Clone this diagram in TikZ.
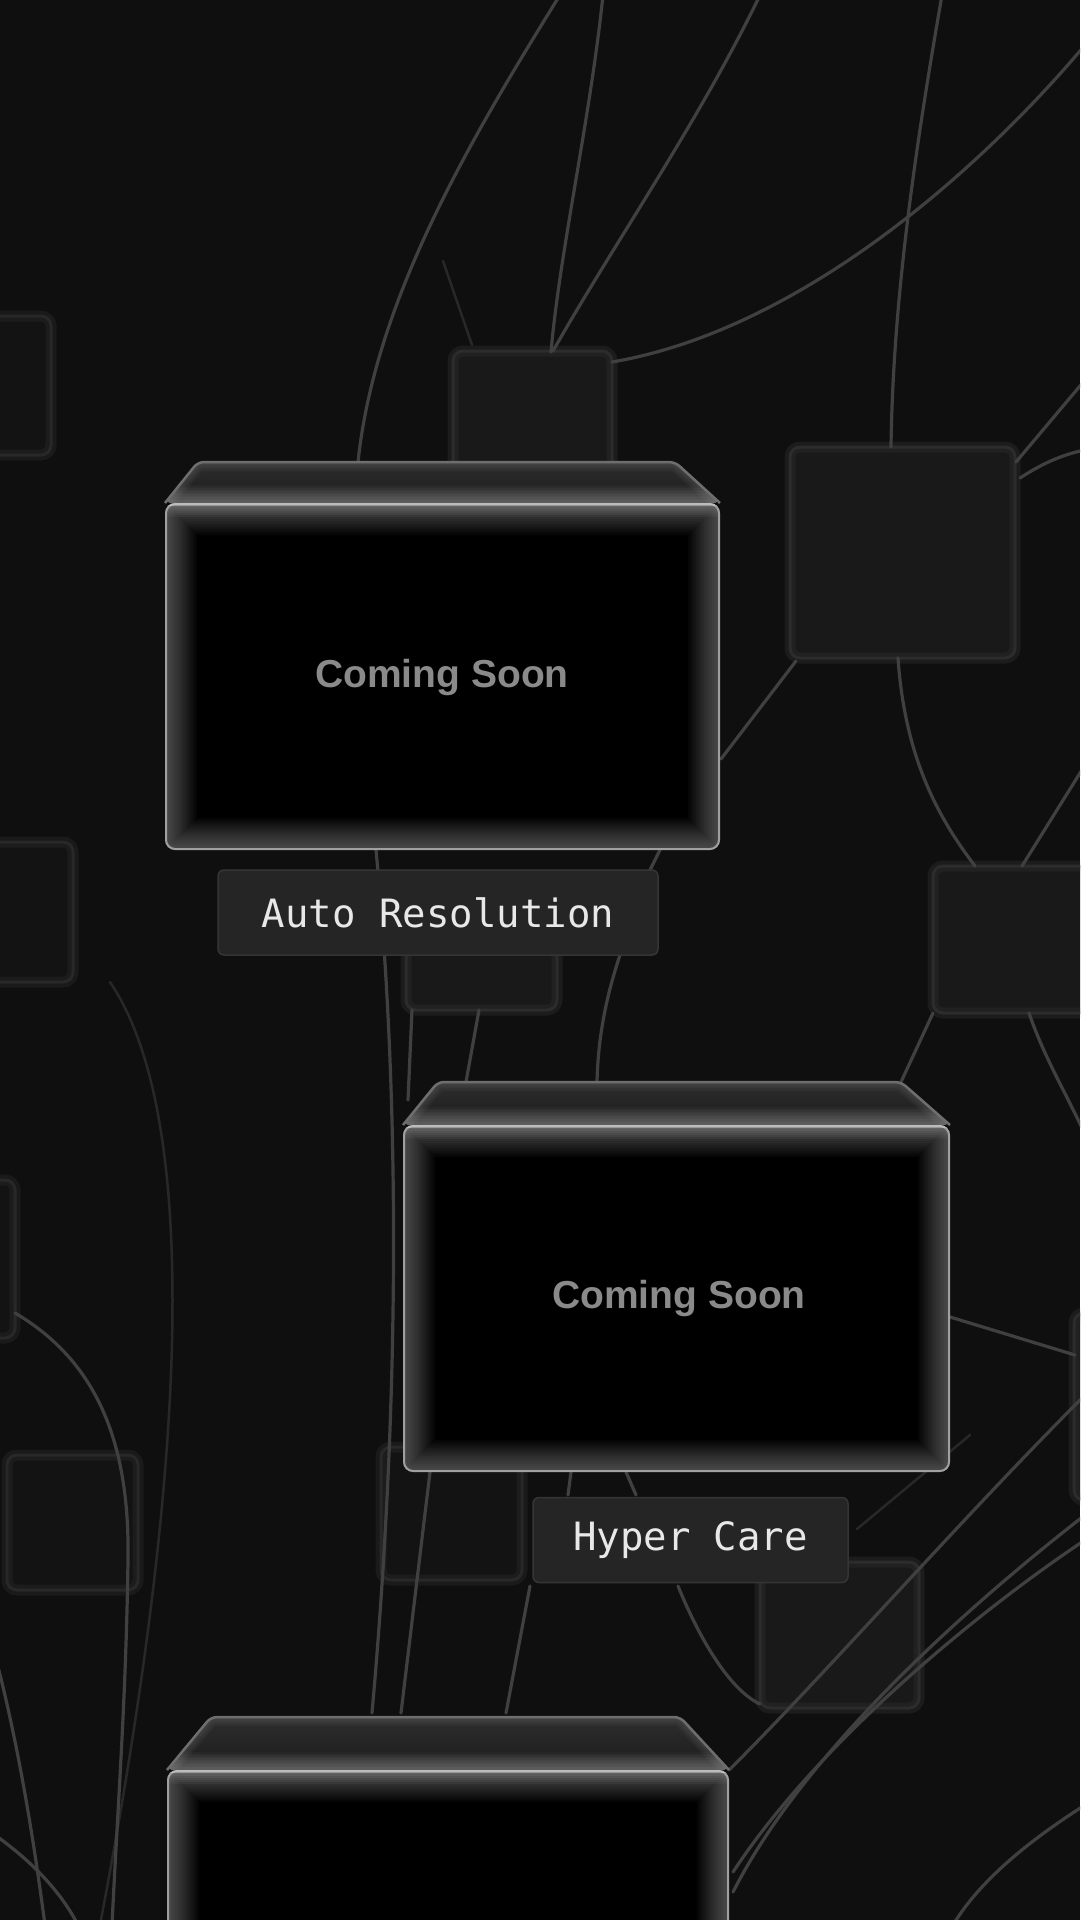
\documentclass[tikz,border=0pt]{standalone}
\usepackage{fontspec}
\setmainfont{Liberation Sans}
\newfontfamily\tagfont{DejaVu Sans Mono}
\usetikzlibrary{calc}
\definecolor{bg}{HTML}{0F0F0F}
\definecolor{wire}{HTML}{404040}
\definecolor{wirefaint}{HTML}{282828}
\definecolor{sqfill}{HTML}{191919}
\definecolor{sqedge}{HTML}{2C2C2C}
\definecolor{tagfill}{HTML}{252525}
\definecolor{tagedge}{HTML}{353535}
\definecolor{tagtext}{HTML}{E8E8E8}
\definecolor{cstext}{HTML}{8A8A8A}
\definecolor{topA}{HTML}{2E2E2E}
\definecolor{topB}{HTML}{1B1B1B}
\definecolor{topedge}{HTML}{6E6E6E}
\definecolor{cardedge}{HTML}{A0A0A0}
\tikzset{
  sq/.style={fill=sqfill, draw=sqedge, line width=3pt, rounded corners=10pt, inner sep=0pt,
    postaction={draw=sqedge, line width=11pt, opacity=0.45}},
  sqfaint/.style={fill=bg!60!sqfill, draw=wirefaint, line width=3pt, rounded corners=10pt, inner sep=0pt,
    postaction={draw=wirefaint, line width=11pt, opacity=0.45}},
  wireline/.style={draw=wire, line width=3.2pt, line cap=round},
  faintwire/.style={draw=wirefaint, line width=2.5pt, line cap=round},
  cstag/.style={text=cstext, font=\bfseries\fontsize{39}{39}\selectfont, inner sep=0pt},
  labeltag/.style={fill=tagfill, draw=tagedge, line width=1.5pt, rounded corners=6pt,
    text=tagtext, font=\tagfont\fontsize{39}{39}\selectfont, minimum height=85pt, inner sep=0pt}
}
% #1 TLx #2 TRx #3 topY #4 FLx #5 FRx #6 frontY #7 bottomY
\newcommand\cardbox[7]{%
  \begin{scope}
    \clip[rounded corners=6pt] (#1,#3) -- (#2,#3) -- (#5,#6) -- (#4,#6) -- cycle;
    \fill[top color=topA, bottom color=topB] (#4,#3) rectangle (#5,#6);
    \foreach \w in {3,6,...,36}{
      \draw[white,opacity=0.03,line width=\w pt] (#4,#6) -- (#5,#6);}
    \foreach \w in {3,6,...,18}{
      \draw[white,opacity=0.025,line width=\w pt] (#4,#6) -- (#1,#3) -- (#2,#3) -- (#5,#6);}
  \end{scope}
  \draw[topedge, line width=2.5pt, rounded corners=6pt] (#4,#6) -- (#1,#3) -- (#2,#3) -- (#5,#6);
  \begin{scope}
    \clip[rounded corners=10pt] (#4,#6) -- (#5,#6) -- (#5,#7) -- (#4,#7) -- cycle;
    \fill[black] (#4,#6) rectangle (#5,#7);
    \foreach \w in {4,8,...,64}{
      \draw[white,opacity=0.022,line width=\w pt,rounded corners=10pt]
        (#4,#6) -- (#5,#6) -- (#5,#7) -- (#4,#7) -- cycle;}
    \foreach \w in {4,8,...,28}{
      \draw[white,opacity=0.03,line width=\w pt] (#4,#6) -- (#5,#6);}
    \draw[cardedge, line width=4pt, rounded corners=10pt]
        (#4,#6) -- (#5,#6) -- (#5,#7) -- (#4,#7) -- cycle;
    \draw[white, opacity=.3, line width=5pt] (#4,#6) -- (#5,#6);
  \end{scope}
}
\begin{document}
\begin{tikzpicture}[x=1pt,y=-1pt]
\useasboundingbox (0,0) rectangle (1080,1920);
\clip (0,0) rectangle (1080,1920);
\fill[bg] (0,0) rectangle (1080,1920);

% faint background squares
\node[sqfaint, minimum width=111pt, minimum height=139pt] (sqA) at (-4.5,385.5) {};
\node[sq, minimum width=159pt, minimum height=129pt] (sqB) at (532.5,415.5) {};
\node[sq, minimum width=225pt, minimum height=211pt] (sqC) at (902.5,552.5) {};
\node[sqfaint, minimum width=113pt, minimum height=140pt] (sqD) at (16.5,912) {};
\node[sq, minimum width=151pt, minimum height=110pt] (sqE) at (481.5,955) {};
\node[sq, minimum width=197pt, minimum height=147pt] (sqF) at (1031.5,939.5) {};
\node[sqfaint, minimum width=115pt, minimum height=158pt] (sqG) at (-42.5,1259) {};
\node[sqfaint, minimum width=131pt, minimum height=135pt] (sqH) at (72.5,1522.5) {};
\node[sqfaint, minimum width=141pt, minimum height=133pt] (sqI) at (451.5,1513.5) {};
\node[sq, minimum width=159pt, minimum height=146pt] (sqJ) at (839.5,1635) {};
\node[sq, minimum width=126pt, minimum height=187pt] (sqK) at (1137,1406.5) {};

% named ends
\coordinate (topL1) at (560,-5);
\coordinate (topL2) at (603,-5);
\coordinate (topL3) at (760,-5);
\coordinate (topL6) at (942,-5);
\coordinate (rtL5) at (1085,45);
\coordinate (c1top) at (358,462);

% wires
\draw[wireline] (topL1) .. controls (470,140) and (375,300) .. (c1top);
\draw[wireline] (topL2) .. controls (590,120) and (560,250) .. (551,352);
\draw[wireline] (topL3) .. controls (700,120) and (610,250) .. (553,351);
\draw[faintwire] (443,261) -- (472,345);
\draw[wireline] (rtL5) .. controls (980,170) and (800,330) .. (612,362);
\draw[wireline] (topL6) .. controls (915,150) and (893,300) .. (891,447);
\draw[wireline] (1016,462) -- (1085,380);
\draw[wireline] (1020,478) .. controls (1040,465) and (1060,455) .. (1085,450);
\draw[wireline] (721,759) -- (796,661);
\draw[wireline] (898,658) .. controls (905,760) and (940,820) .. (975,866);
\draw[wireline] (1022,866) -- (1085,765);
\draw[wireline] (933,1013) -- (901,1082);
\draw[wireline] (1029,1013) .. controls (1045,1060) and (1070,1100) .. (1085,1135);
\draw[wireline] (620,955) .. controls (605,1000) and (598,1040) .. (597,1082);
\draw[wireline] (660,850) -- (650,870);
\draw[wireline] (376,850) .. controls (400,1100) and (400,1400) .. (372,1713);
\draw[wireline] (412,1010) -- (408,1100);
\draw[wireline] (479,1010) -- (466,1082);
\draw[faintwire] (110,982) .. controls (190,1100) and (200,1400) .. (100,1925);
\draw[wireline] (15,1313) .. controls (95,1360) and (130,1440) .. (128,1560) .. controls (126,1700) and (118,1800) .. (112,1925);
\draw[wireline] (-5,1655) .. controls (20,1750) and (35,1850) .. (45,1925);
\draw[wireline] (-5,1835) .. controls (30,1860) and (60,1890) .. (78,1925);
\draw[wireline] (430,1472) -- (401,1713);
\draw[wireline] (530,1586) -- (506,1713);
\draw[wireline] (571,1472) -- (568,1495);
\draw[wireline] (626,1472) -- (636,1495);
\draw[wireline] (678,1586) .. controls (700,1640) and (730,1690) .. (760,1704);
\draw[wireline] (1085,1395) .. controls (960,1520) and (820,1680) .. (729,1770);
\draw[wireline] (1085,1515) .. controls (950,1620) and (800,1760) .. (733,1892);
\draw[wireline] (1085,1540) .. controls (980,1610) and (820,1740) .. (733,1872);
\draw[faintwire] (970,1435) -- (857,1529);
\draw[wireline] (950,1317) -- (1075,1355);
\draw[wireline] (1085,1805) .. controls (1030,1840) and (980,1880) .. (953,1925);

% cards
\cardbox{198}{675}{462}{165}{720}{503}{850}
\cardbox{438}{901}{1082}{403}{950}{1125}{1472}
\cardbox{211}{680}{1717}{167}{729}{1770}{2000}

\node[cstag] (cs1) at (442,677) {Coming Soon};
\node[cstag] (cs2) at (679,1298) {Coming Soon};

\node[labeltag, minimum width=440pt] (tag1) at (438,912.5) {Auto Resolution};
\node[labeltag, minimum width=315pt] (tag2) at (690.5,1540) {Hyper Care};
\end{tikzpicture}
\end{document}
